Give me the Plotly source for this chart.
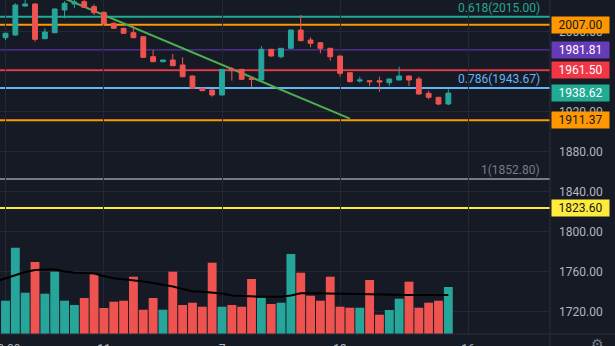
import plotly.graph_objects as go

# ---- price candles (one per bar, oldest first) ----
opens = [1994.0, 1996.7, 2025.7, 2027.7, 1993.0, 1999.0, 2021.7, 2027.7, 2030.0, 2025.0,
         2019.4, 2008.4, 2003.4, 1999.0, 1995.0, 1975.0, 1970.0, 1971.7, 1966.7, 1955.7,
         1943.4, 1941.7, 1936.7, 1962.7, 1962.4, 1953.4, 1951.7, 1982.4, 1975.0, 1983.4,
         2001.7, 1991.7, 1989.0, 1983.4, 1975.7, 1959.0, 1950.7, 1951.0, 1951.0, 1949.0,
         1951.7, 1955.7, 1952.7, 1938.4, 1934.4, 1927.7]
highs = [1999.0, 2028.4, 2033.0, 2028.5, 2003.4, 2023.2, 2030.5, 2032.5, 2032.5, 2027.4,
         2020.2, 2009.4, 2004.0, 2005.0, 1995.5, 1981.7, 1972.0, 1977.7, 1974.4, 1956.0,
         1943.7, 1942.0, 1962.7, 1964.7, 1962.7, 1953.7, 1985.7, 1982.7, 1983.7, 2002.0,
         2016.7, 1994.4, 1989.4, 1983.7, 1976.0, 1959.4, 1955.0, 1951.2, 1955.0, 1953.0,
         1965.0, 1956.0, 1955.0, 1941.0, 1934.8, 1942.4]
lows = [1991.7, 1996.0, 2025.0, 1990.0, 1992.5, 1998.5, 2013.4, 2023.4, 2024.0, 2016.7,
        2007.0, 2003.0, 1998.0, 1993.5, 1974.0, 1969.5, 1969.5, 1965.5, 1954.4, 1943.0,
        1940.7, 1935.0, 1936.5, 1951.0, 1952.0, 1944.4, 1951.5, 1975.0, 1973.4, 1983.0,
        1990.7, 1984.4, 1978.4, 1971.0, 1955.0, 1949.5, 1949.0, 1945.7, 1940.0, 1945.7,
        1951.5, 1945.7, 1937.0, 1932.4, 1926.5, 1926.5]
closes = [1998.4, 2026.7, 2027.7, 1992.4, 1999.7, 2022.7, 2028.4, 2029.7, 2024.4, 2019.0,
          2007.7, 2003.4, 1998.4, 1994.0, 1974.4, 1970.0, 1971.7, 1966.0, 1955.0, 1943.4,
          1941.0, 1936.7, 1962.4, 1961.0, 1952.4, 1952.4, 1982.4, 1975.7, 1983.4, 2001.7,
          1991.0, 1988.4, 1983.4, 1975.0, 1958.4, 1950.0, 1951.7, 1950.0, 1949.7, 1952.7,
          1955.7, 1951.7, 1937.7, 1934.4, 1927.7, 1938.62]

# ---- volume (thousands) and its moving average ----
volume = [33.3, 86.3, 41.3, 72.0, 40.3, 62.3, 33.3, 29.0, 36.0, 60.0,
          26.0, 32.3, 33.3, 57.3, 24.3, 36.0, 24.3, 62.3, 29.0, 31.3,
          27.3, 71.3, 27.3, 29.0, 27.3, 55.0, 36.3, 30.0, 31.3, 80.0,
          61.3, 38.3, 33.3, 57.3, 27.3, 26.3, 26.3, 54.0, 19.3, 24.0,
          35.3, 52.3, 26.3, 31.3, 33.3, 47.0]
# the average line starts one bar before the first visible volume bar
volume_ma_x = list(range(-1, 46))
volume_ma = [52.5,
             55.5, 58.5, 62.0, 64.0, 64.5, 64.7, 62.5, 61.2, 61.0, 60.5,
             58.0, 55.7, 54.8, 54.0, 52.5, 51.0, 49.5, 47.5, 45.0, 42.8,
             42.2, 41.5, 40.5, 38.5, 38.0, 37.7, 37.3, 37.3, 37.3, 38.5,
             40.7, 40.7, 40.7, 40.7, 40.5, 40.3, 40.0, 39.7, 39.4, 39.2,
             39.0, 39.0, 39.0, 39.0, 39.0, 39.0]

# ---- time axis ----
time_tick_pos = [0, 10, 22, 34, 47]
time_tick_text = ["20:00", "11", "7", "13", "16"]

# ---- price axis ----
price_ticks = [1720, 1760, 1800, 1840, 1880, 1920, 1960, 2000]

# ---- drawn levels ----
fib_levels = [2015.00, 1943.67, 1852.80]
fib_names = ["0.618(2015.00)", "0.786(1943.67)", "1(1852.80)"]
fib_colors = ["#22ab94", "#64b5f6", "#787b86"]

hline_levels = [2007.00, 1981.81, 1961.50, 1911.37, 1823.60]
hline_colors = ["#ff9800", "#673ab7", "#f23645", "#ff9800", "#ffeb3b"]
hline_widths = [2, 1, 2, 2, 2]

# price tags on the axis: (value, background, text colour)
tag_values = [2007.00, 1981.81, 1961.50, 1938.62, 1911.37, 1823.60]
tag_bg = ["#ff9800", "#673ab7", "#f23645", "#22ab94", "#ff9800", "#ffeb3b"]
tag_fg = ["#131722", "#ffffff", "#ffffff", "#ffffff", "#131722", "#131722"]

# trend line endpoints (bar index, price)
trend_x = [6, 35]
trend_y = [2033.2, 1913.0]

UP = "#26a69a"
DOWN = "#ef5350"
BG = "#161a25"
GRID = "#232834"
TEXT = "#b2b5be"
FONT = "Roboto, sans-serif"

idx = list(range(len(opens)))
vol_colors = [UP if c >= o else DOWN for o, c in zip(opens, closes)]

fig = go.Figure()

fig.add_trace(go.Bar(
    x=idx, y=volume, yaxis="y2", marker=dict(color=vol_colors, line=dict(width=0)),
    hoverinfo="skip", showlegend=False))

fig.add_trace(go.Scatter(
    x=volume_ma_x, y=volume_ma, yaxis="y2", mode="lines",
    line=dict(color="#000000", width=2), hoverinfo="skip", showlegend=False))

fig.add_trace(go.Candlestick(
    x=idx, open=opens, high=highs, low=lows, close=closes,
    increasing=dict(line=dict(color=UP, width=1), fillcolor=UP),
    decreasing=dict(line=dict(color=DOWN, width=1), fillcolor=DOWN),
    whiskerwidth=0, hoverinfo="skip", showlegend=False))

shapes = []
for lvl, col in zip(fib_levels, fib_colors):
    shapes.append(dict(type="line", xref="paper", x0=0, x1=1, yref="y", y0=lvl, y1=lvl,
                       line=dict(color=col, width=2), layer="between"))
for lvl, col, w in zip(hline_levels, hline_colors, hline_widths):
    shapes.append(dict(type="line", xref="paper", x0=0, x1=1, yref="y", y0=lvl, y1=lvl,
                       line=dict(color=col, width=w), layer="between"))

shapes.append(dict(type="line", xref="x", yref="y",
                   x0=trend_x[0], y0=trend_y[0], x1=trend_x[1], y1=trend_y[1],
                   line=dict(color="#4caf50", width=2), layer="between"))

# pane separators: price scale border and time scale border
PLOT_W = 550
PLOT_H = 334
shapes.append(dict(type="line", xref="paper", yref="paper", x0=1, x1=1,
                   y0=-12 / PLOT_H, y1=1, line=dict(color="#2a2e39", width=1)))
shapes.append(dict(type="line", xref="paper", yref="paper", x0=0, x1=615 / PLOT_W,
                   y0=0, y1=0, line=dict(color="#2a2e39", width=1)))

annotations = []
for lvl, name, col in zip(fib_levels, fib_names, fib_colors):
    annotations.append(dict(xref="paper", x=542 / PLOT_W, xanchor="right",
                            yref="y", y=lvl, yanchor="bottom", yshift=0,
                            text=name, showarrow=False,
                            font=dict(family=FONT, size=12, color=col)))

for val, bg, fg in zip(tag_values, tag_bg, tag_fg):
    annotations.append(dict(xref="paper", x=580.5 / PLOT_W, xanchor="center",
                            yref="y", y=val, yanchor="middle",
                            text=f"{val:.2f}", showarrow=False,
                            bgcolor=bg, borderpad=2, width=53, height=12,
                            font=dict(family=FONT, size=12, color=fg)))

# settings glyph in the corner of the scales
annotations.append(dict(xref="paper", x=598 / PLOT_W, xanchor="center",
                        yref="paper", y=-10 / PLOT_H, yanchor="middle",
                        text="⚙", showarrow=False,
                        font=dict(family="DejaVu Sans", size=14, color="#787b86")))

fig.update_layout(
    width=615, height=346,
    margin=dict(l=0, r=65, t=0, b=12),
    paper_bgcolor=BG, plot_bgcolor=BG,
    bargap=0.1,
    shapes=shapes, annotations=annotations,
    font=dict(family=FONT, size=12, color=TEXT),
    xaxis=dict(range=[-0.559, 55.33], tickvals=time_tick_pos, ticktext=time_tick_text,
               showgrid=True, gridcolor=GRID, gridwidth=1, zeroline=False,
               showline=False, ticks="", rangeslider=dict(visible=False),
               ticklabelstandoff=6, ticklabeloverflow="allow",
               tickfont=dict(family=FONT, size=12, color=TEXT), automargin=False),
    yaxis=dict(range=[1697.7, 2031.7], side="right", tickvals=price_ticks,
               tickformat=".2f", showgrid=True, gridcolor=GRID, gridwidth=1,
               zeroline=False, showline=False, ticks="", ticklabelstandoff=8,
               tickfont=dict(family=FONT, size=12, color=TEXT), automargin=False),
    yaxis2=dict(range=[0, PLOT_H], overlaying="y", visible=False, fixedrange=True),
    hovermode=False,
)

fig.write_html("out.html", config={"displayModeBar": False})
